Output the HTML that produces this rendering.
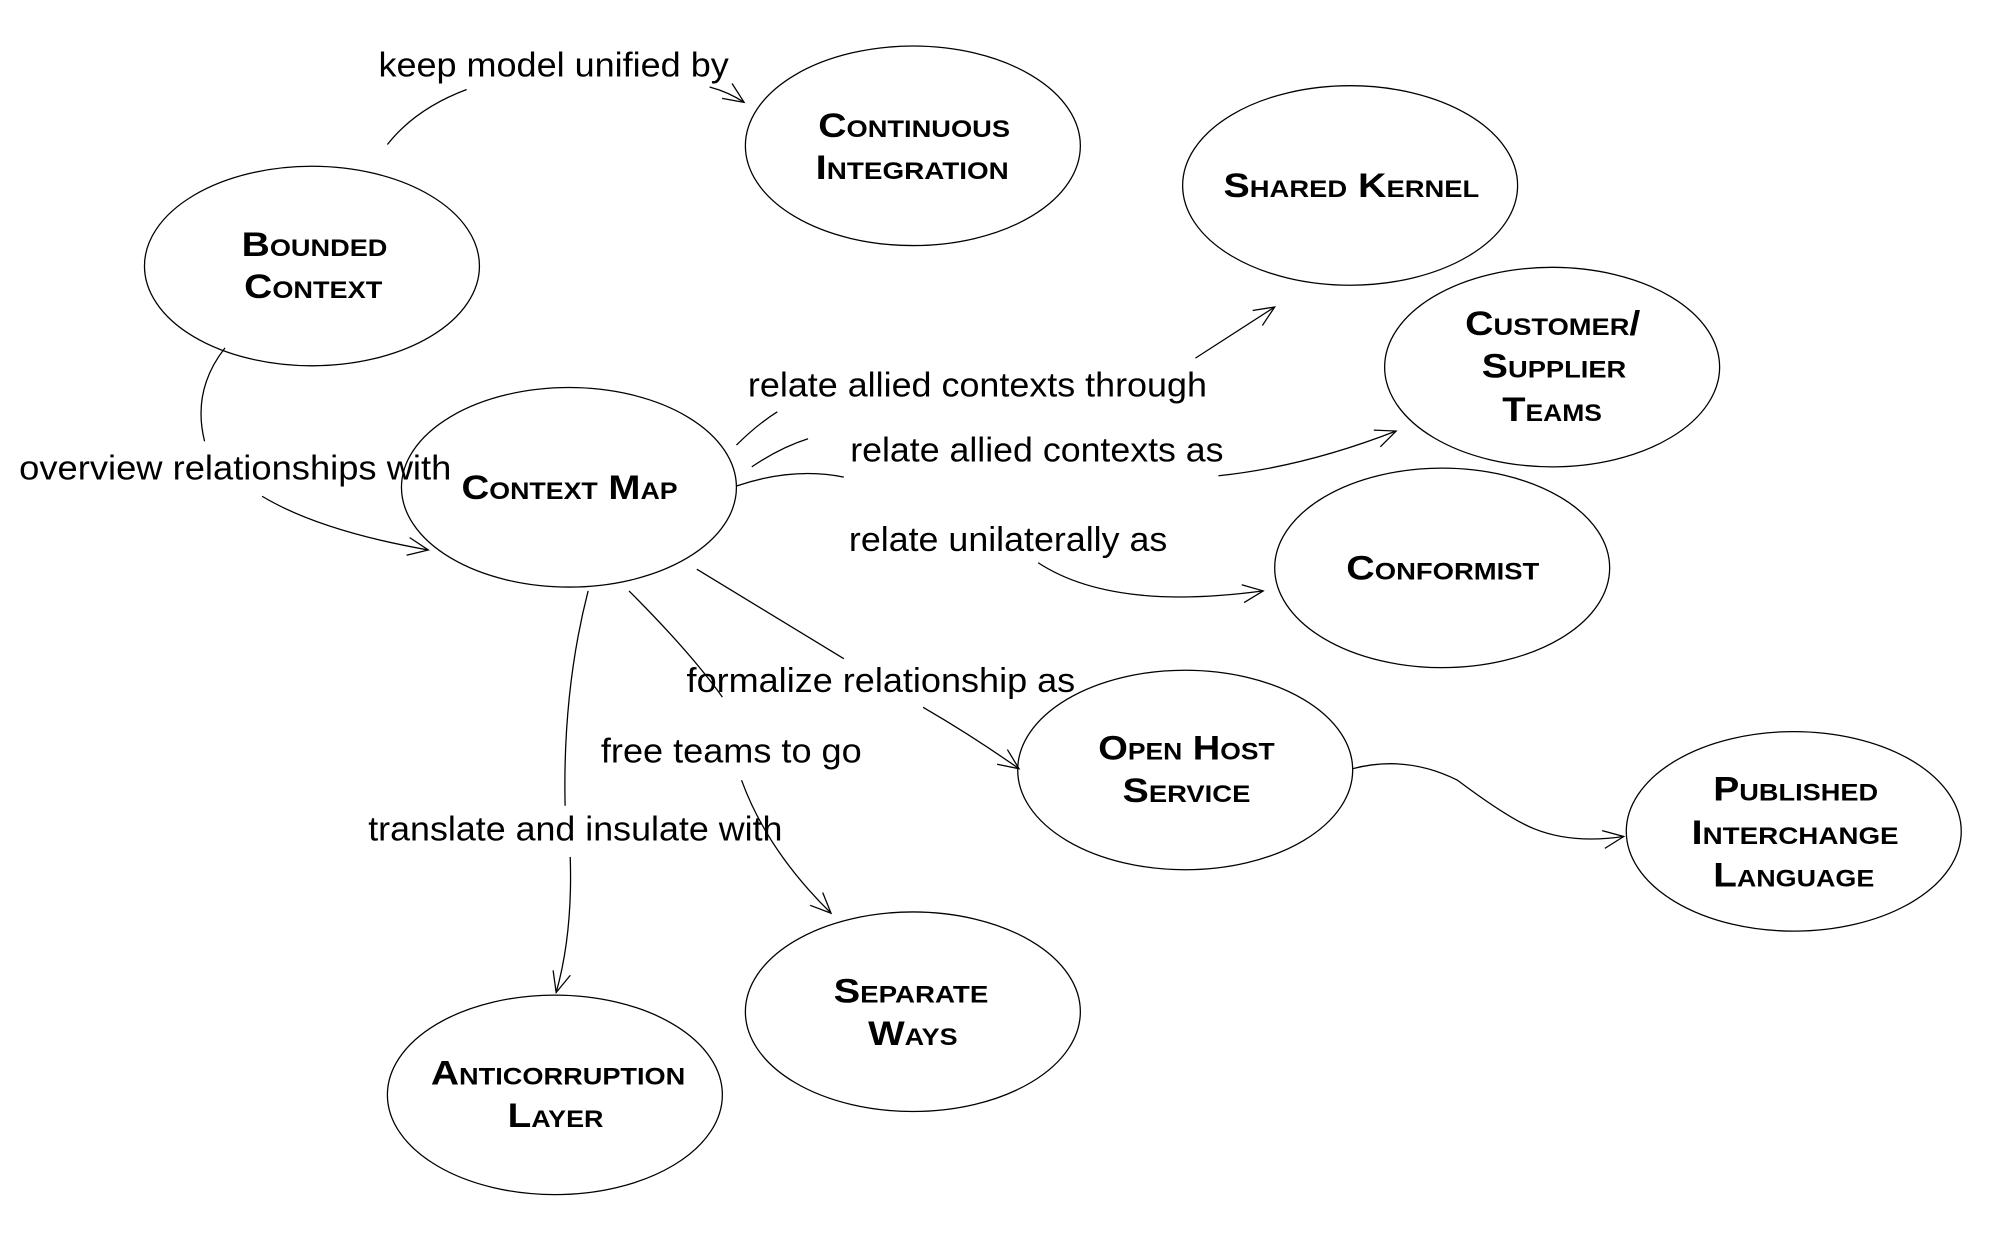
<!DOCTYPE html>
<html><head><meta charset="utf-8"><style>
html,body{margin:0;padding:0;background:#fff;}
svg{display:block;}
.l{font-family:"Liberation Sans",sans-serif;font-size:27px;fill:#000;}
.n{font-family:"Liberation Sans",sans-serif;font-size:27px;font-weight:bold;font-variant:small-caps;fill:#000;}
</style></head><body>
<svg width="2006" height="1256" viewBox="0 0 1569 982" preserveAspectRatio="none" xmlns="http://www.w3.org/2000/svg">
<defs><marker id="a" markerWidth="20" markerHeight="20" refX="18" refY="10" orient="auto" markerUnits="userSpaceOnUse"><path d="M2,3 L18,10 L2,17" fill="none" stroke="#000" stroke-width="1"/></marker></defs>
<g fill="none" stroke="#000" stroke-width="1">
<ellipse cx="244" cy="208" rx="131" ry="78"/>
<ellipse cx="714" cy="114" rx="131" ry="78"/>
<ellipse cx="1056" cy="145" rx="131" ry="78"/>
<ellipse cx="1214" cy="287" rx="131" ry="78"/>
<ellipse cx="445" cy="381" rx="131" ry="78"/>
<ellipse cx="1128" cy="444" rx="131" ry="78"/>
<ellipse cx="927" cy="602" rx="131" ry="78"/>
<ellipse cx="1403" cy="650" rx="131" ry="78"/>
<ellipse cx="714" cy="791" rx="131" ry="78"/>
<ellipse cx="434" cy="856" rx="131" ry="78"/>
<path d="M303,113 Q325,85 365,70"/><path d="M555,68 Q570,72 582,80" marker-end="url(#a)"/>
<path d="M176,272 Q150,305 160,345"/><path d="M205,388 Q250,415 335,430" marker-end="url(#a)"/>
<path d="M576,348 Q592,332 608,322"/><path d="M935,280 L997,240" marker-end="url(#a)"/>
<path d="M588,365 Q610,350 632,343"/><path d="M953,372 Q1020,365 1092,337" marker-end="url(#a)"/>
<path d="M576,380 Q620,365 660,373"/><path d="M812,440 Q870,478 988,462" marker-end="url(#a)"/>
<path d="M545,445 L660,515"/><path d="M722,553 Q760,575 797,601" marker-end="url(#a)"/>
<path d="M492,462 Q540,510 565,545"/><path d="M580,610 Q600,665 650,714" marker-end="url(#a)"/>
<path d="M460,462 Q440,540 442,630"/><path d="M446,670 Q448,730 435,776" marker-end="url(#a)"/>
<path d="M1058,601 Q1100,590 1140,610 Q1180,640 1200,648 Q1230,660 1270,654" marker-end="url(#a)"/>
</g>
<g class="l">
<text x="296" y="60" textLength="274" lengthAdjust="spacingAndGlyphs">keep model unified by</text>
<text x="15" y="375" textLength="338" lengthAdjust="spacingAndGlyphs">overview relationships with</text>
<text x="585" y="310" textLength="359" lengthAdjust="spacingAndGlyphs">relate allied contexts through</text>
<text x="665" y="361" textLength="292" lengthAdjust="spacingAndGlyphs">relate allied contexts as</text>
<text x="664" y="431" textLength="249" lengthAdjust="spacingAndGlyphs">relate unilaterally as</text>
<text x="537" y="541" textLength="304" lengthAdjust="spacingAndGlyphs">formalize relationship as</text>
<text x="470" y="596" textLength="204" lengthAdjust="spacingAndGlyphs">free teams to go</text>
<text x="288" y="657" textLength="324" lengthAdjust="spacingAndGlyphs">translate and insulate with</text>
</g>
<g class="n">
<text x="189" y="200" textLength="114" lengthAdjust="spacingAndGlyphs">Bounded</text>
<text x="191" y="233" textLength="108" lengthAdjust="spacingAndGlyphs">Context</text>
<text x="640" y="107" textLength="150" lengthAdjust="spacingAndGlyphs">Continuous</text>
<text x="638" y="140" textLength="151" lengthAdjust="spacingAndGlyphs">Integration</text>
<text x="957" y="154" textLength="200" lengthAdjust="spacingAndGlyphs">Shared Kernel</text>
<text x="1146" y="262" textLength="137" lengthAdjust="spacingAndGlyphs">Customer/</text>
<text x="1159" y="295" textLength="113" lengthAdjust="spacingAndGlyphs">Supplier</text>
<text x="1175" y="329" textLength="78" lengthAdjust="spacingAndGlyphs">Teams</text>
<text x="361" y="390" textLength="169" lengthAdjust="spacingAndGlyphs">Context Map</text>
<text x="1053" y="453" textLength="151" lengthAdjust="spacingAndGlyphs">Conformist</text>
<text x="859" y="594" textLength="138" lengthAdjust="spacingAndGlyphs">Open Host</text>
<text x="878" y="627" textLength="100" lengthAdjust="spacingAndGlyphs">Service</text>
<text x="1340" y="626" textLength="129" lengthAdjust="spacingAndGlyphs">Published</text>
<text x="1323" y="660" textLength="162" lengthAdjust="spacingAndGlyphs">Interchange</text>
<text x="1340" y="693" textLength="126" lengthAdjust="spacingAndGlyphs">Language</text>
<text x="652" y="784" textLength="121" lengthAdjust="spacingAndGlyphs">Separate</text>
<text x="679" y="817" textLength="70" lengthAdjust="spacingAndGlyphs">Ways</text>
<text x="337" y="848" textLength="199" lengthAdjust="spacingAndGlyphs">Anticorruption</text>
<text x="397" y="881" textLength="75" lengthAdjust="spacingAndGlyphs">Layer</text>
</g>
</svg>
</body></html>
